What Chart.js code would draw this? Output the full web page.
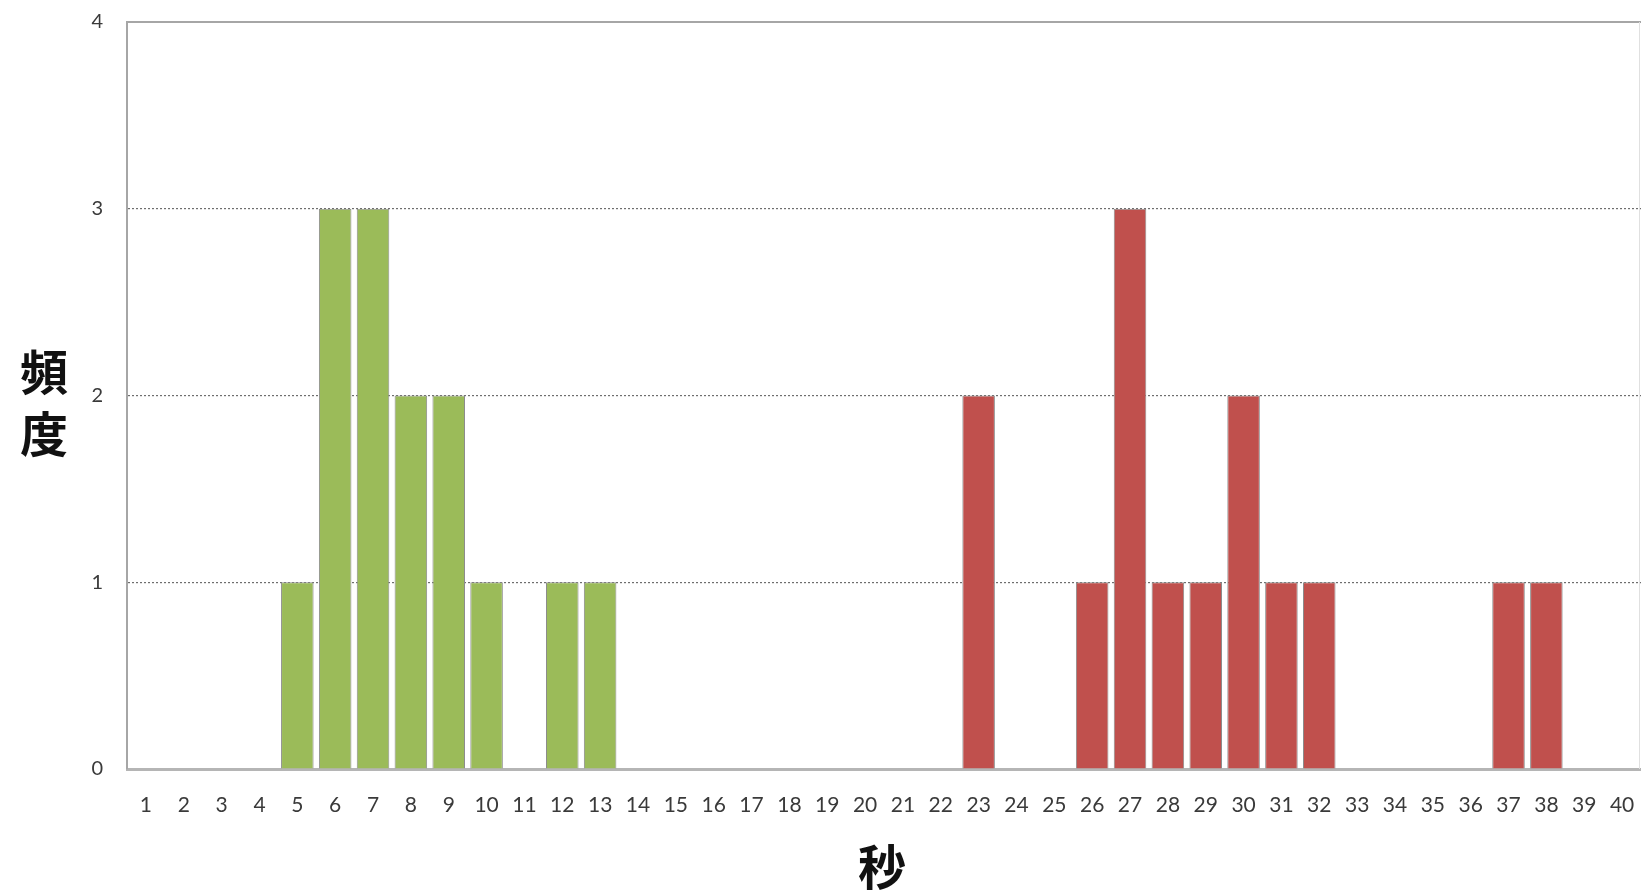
<!DOCTYPE html>
<html>
<head>
<meta charset="utf-8">
<script src="https://cdn.jsdelivr.net/npm/chart.js@4.4.1/dist/chart.umd.min.js"></script>
<style>
  html, body { margin: 0; padding: 0; background: #ffffff; }
  #wrap { position: relative; width: 1641px; height: 893px; }
  canvas { position: absolute; left: 0; top: 0; }
  .title { position: absolute; font-family: "Noto Sans CJK JP", sans-serif; font-weight: 700; font-size: 48px; color: #111; line-height: 1; }
  #ytitle { left: 19px; top: 338px; width: 50px; text-align: center; line-height: 62px; }
  #xtitle { left: 858px; top: 840px; }
</style>
</head>
<body>
<div id="wrap">
  <canvas id="c" width="1641" height="893"></canvas>
  <div class="title" id="ytitle">頻<br>度</div>
  <div class="title" id="xtitle">秒</div>
</div>
<script>
// seconds 1..40
const seconds = ['1','2','3','4','5','6','7','8','9','10','11','12','13','14','15','16','17','18','19','20',
                 '21','22','23','24','25','26','27','28','29','30','31','32','33','34','35','36','37','38','39','40'];
// frequency, first group (green)
const groupA = [0,0,0,0,1,3,3,2,2,1,0,1,1,0,0,0,0,0,0,0,
                0,0,0,0,0,0,0,0,0,0,0,0,0,0,0,0,0,0,0,0];
// frequency, second group (red)
const groupB = [0,0,0,0,0,0,0,0,0,0,0,0,0,0,0,0,0,0,0,0,
                0,0,2,0,0,1,3,1,1,2,1,1,0,0,0,0,1,1,0,0];
const yTicks = [0,1,2,3,4];

// solid top edge and faint right edge of the plot frame
const frame = {
  id: 'frame',
  afterDraw(chart) {
    const {ctx, chartArea: a} = chart;
    ctx.save();
    ctx.strokeStyle = '#a6a6a6';
    ctx.lineWidth = 2;
    ctx.beginPath();
    ctx.moveTo(a.left, a.top);
    ctx.lineTo(a.right, a.top);
    ctx.stroke();
    ctx.strokeStyle = '#e0e0e0';
    ctx.lineWidth = 1;
    ctx.beginPath();
    ctx.moveTo(a.right - 1.5, a.top);
    ctx.lineTo(a.right - 1.5, a.bottom);
    ctx.stroke();
    ctx.restore();
  }
};

new Chart(document.getElementById('c'), {
  type: 'bar',
  data: {
    labels: seconds,
    datasets: [
      { data: groupA, backgroundColor: '#9bbb59', borderColor: '#8c8c8c', borderWidth: 1, borderSkipped: 'bottom' },
      { data: groupB, backgroundColor: '#c0504d', borderColor: '#8c8c8c', borderWidth: 1, borderSkipped: 'bottom' }
    ]
  },
  options: {
    responsive: false,
    animation: false,
    events: [],
    layout: { padding: { top: 22, right: 0, left: 0, bottom: 0 } },
    plugins: { legend: { display: false }, tooltip: { enabled: false } },
    datasets: { bar: { barPercentage: 0.86, categoryPercentage: 1 } },
    scales: {
      x: {
        stacked: true,
        grid: { display: false, drawTicks: false },
        border: { display: true, color: '#b5b5b5', width: 3 },
        ticks: { color: '#3a3a3a', font: { family: 'Lato', size: 21 }, padding: 24, maxRotation: 0, autoSkip: false },
        afterFit(s) { s.height = 124; s.paddingLeft = 0; s.paddingRight = 0; }
      },
      y: {
        stacked: true,
        min: 0, max: 4,
        afterBuildTicks(s) { s.ticks = yTicks.map(v => ({ value: v })); },
        grid: {
          drawTicks: false,
          color: c => (c.tick && (c.tick.value === 0 || c.tick.value === 4)) ? 'rgba(0,0,0,0)' : '#6e6e6e',
          lineWidth: 1.2
        },
        border: { display: true, color: '#a6a6a6', width: 2, dash: [2, 2] },
        ticks: { color: '#3a3a3a', font: { family: 'Lato', size: 20 }, padding: 24 },
        afterFit(s) { s.width = 127; s.paddingTop = 0; s.paddingBottom = 0; }
      }
    }
  },
  plugins: [frame]
});
</script>
</body>
</html>
